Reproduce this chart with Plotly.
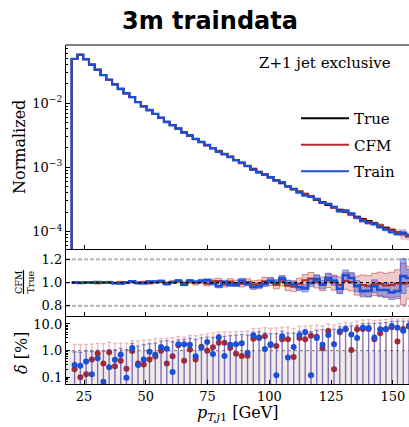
import numpy as np
import plotly.graph_objects as go

# ---------------- data ----------------
bin_edges = list(np.linspace(20, 160, 61))

true_vals = [4.88e-2, 5.69e-2, 4.82e-2, 3.98e-2, 3.31e-2, 2.74e-2, 2.31e-2, 1.96e-2, 1.67e-2, 1.42e-2,
             1.23e-2, 1.04e-2, 8.91e-3, 7.76e-3, 6.76e-3, 5.86e-3, 5.13e-3, 4.52e-3, 3.98e-3, 3.51e-3,
             3.10e-3, 2.75e-3, 2.45e-3, 2.20e-3, 1.98e-3, 1.79e-3, 1.61e-3, 1.46e-3, 1.30e-3, 1.17e-3,
             1.05e-3, 9.46e-4, 8.53e-4, 7.69e-4, 6.93e-4, 6.27e-4, 5.66e-4, 5.12e-4, 4.63e-4, 4.20e-4,
             3.80e-4, 3.45e-4, 3.13e-4, 2.84e-4, 2.59e-4, 2.37e-4, 2.17e-4, 2.00e-4, 1.84e-4, 1.69e-4,
             1.56e-4, 1.45e-4, 1.34e-4, 1.24e-4, 1.14e-4, 1.06e-4, 9.82e-5, 9.10e-5, 8.43e-5, 7.83e-5]

ratio_cfm = [0.998, 1.001, 0.999, 1.004, 0.995, 1.003, 1.006, 0.998, 1.003, 0.998,
             1.009, 0.997, 1.003, 0.996, 1.005, 1.008, 0.997, 1.006, 1.012, 0.996,
             1.010, 0.996, 1.012, 0.990, 1.012, 1.015, 0.985, 1.010, 0.995, 0.990,
             1.005, 0.985, 0.990, 1.012, 1.010, 0.985, 1.012, 0.975, 0.970, 0.990,
             1.020, 1.035, 1.010, 0.990, 1.020, 1.000, 0.980, 1.015, 1.005, 0.975,
             0.980, 0.970, 0.985, 0.990, 0.975, 0.980, 0.995, 0.990, 1.000, 1.000]

ratio_train = [1.003, 0.997, 1.004, 0.999, 1.005, 0.999, 1.002, 0.995, 0.993, 1.001,
               1.012, 0.997, 0.995, 1.009, 1.007, 1.014, 0.988, 1.002, 1.017, 0.983,
               1.017, 1.006, 1.013, 1.021, 0.993, 0.969, 1.006, 0.983, 0.983, 1.019,
               0.992, 0.962, 0.969, 0.989, 1.017, 0.999, 1.035, 0.995, 0.986, 0.961,
               0.951, 0.999, 1.030, 0.983, 1.039, 1.017, 0.947, 1.065, 1.040, 0.970,
               0.927, 0.929, 0.969, 0.937, 0.937, 0.916, 0.927, 1.056, 1.040, 0.950]

err_cfm = [0.006, 0.005, 0.005, 0.006, 0.006, 0.006, 0.007, 0.007, 0.008, 0.008,
           0.009, 0.009, 0.010, 0.010, 0.011, 0.012, 0.012, 0.013, 0.014, 0.015,
           0.016, 0.017, 0.018, 0.019, 0.020, 0.022, 0.023, 0.024, 0.026, 0.027,
           0.029, 0.031, 0.032, 0.034, 0.036, 0.038, 0.041, 0.043, 0.045, 0.048,
           0.050, 0.053, 0.056, 0.059, 0.062, 0.066, 0.070, 0.073, 0.077, 0.082,
           0.086, 0.090, 0.095, 0.100, 0.105, 0.110, 0.116, 0.180, 0.140, 0.150]

err_train = [0.004, 0.004, 0.004, 0.004, 0.005, 0.005, 0.005, 0.005, 0.006, 0.006,
             0.006, 0.007, 0.007, 0.007, 0.008, 0.008, 0.009, 0.009, 0.010, 0.010,
             0.011, 0.011, 0.012, 0.013, 0.013, 0.014, 0.015, 0.016, 0.017, 0.018,
             0.019, 0.020, 0.021, 0.022, 0.023, 0.024, 0.026, 0.027, 0.028, 0.030,
             0.031, 0.033, 0.035, 0.036, 0.038, 0.040, 0.042, 0.044, 0.046, 0.048,
             0.050, 0.052, 0.055, 0.057, 0.060, 0.062, 0.065, 0.150, 0.075, 0.080]

delta_train = [0.29, 0.27, 0.39, 0.13, 0.52, 0.069, 0.24, 0.46, 0.71, 0.097,
               1.26, 0.29, 0.47, 0.92, 0.71, 1.37, 1.19, 0.16, 1.73, 1.73,
               1.68, 0.62, 1.3, 2.1, 0.75, 3.1, 0.63, 1.68, 1.73, 1.9,
               0.84, 3.76, 3.1, 1.15, 1.73, 0.12, 3.45, 0.55, 1.37, 3.87,
               4.9, 0.12, 2.98, 1.68, 3.87, 1.73, 5.3, 6.5, 4.0, 3.0,
               7.3, 7.1, 3.1, 6.3, 6.3, 8.4, 7.3, 5.6, 8.7, 6.0]

delta_cfm = [0.2, 0.1, 0.13, 0.47, 0.78, 0.33, 0.87, 0.26, 0.42, 0.21,
             0.97, 0.33, 0.3, 0.47, 0.6, 1.0, 0.33, 0.62, 1.6, 0.42,
             1.1, 0.47, 1.4, 1.0, 1.33, 2.0, 2.0, 1.3, 0.77, 0.63,
             0.65, 2.8, 3.0, 3.45, 1.63, 1.5, 2.66, 2.7, 0.58, 3.0,
             2.66, 3.65, 3.35, 1.22, 5.5, 0.2, 4.9, 6.3, 1.06, 6.3,
             6.5, 6.5, 2.66, 4.5, 6.5, 7.5, 2.2, 6.5, 8.0, 6.0]

sigma_cfm = [1.5, 1.6, 1.6, 1.3, 1.1, 1.5, 1.2, 1.6, 1.5, 1.7,
             1.4, 2.0, 2.2, 2.1, 2.2, 1.9, 2.6, 2.4, 1.8, 2.8,
             2.6, 3.2, 2.6, 3.3, 3.3, 2.9, 3.1, 3.8, 4.4, 4.6,
             4.7, 3.9, 3.9, 3.8, 5.3, 5.6, 4.8, 5.0, 6.3, 5.2,
             5.8, 5.3, 5.7, 7.2, 4.5, 9.0, 5.5, 5.2, 10.0, 6.5,
             7.5, 8.0, 11.0, 9.5, 8.5, 8.5, 13.0, 9.5, 8.0, 9.0]

sigma_train = [0.6, 0.6, 0.6, 0.8, 0.5, 0.9, 0.8, 0.6, 0.5, 1.0,
               0.6, 1.2, 1.2, 0.9, 1.2, 0.9, 1.2, 2.0, 0.8, 0.9,
               1.2, 2.0, 1.7, 1.1, 2.4, 0.9, 2.8, 2.0, 2.1, 2.1,
               3.0, 1.2, 2.1, 3.5, 2.6, 4.2, 1.8, 4.0, 3.2, 1.5,
               1.3, 5.0, 2.8, 4.5, 2.4, 4.6, 2.5, 1.8, 4.5, 5.8,
               3.0, 3.5, 7.5, 4.5, 5.0, 4.0, 5.5, 7.0, 4.0, 5.0]

# ---------------- derived ----------------
edges = np.array(bin_edges)
centers = 0.5 * (edges[:-1] + edges[1:])
t = np.array(true_vals)
cfm = t * np.array(ratio_cfm)
train = t * np.array(ratio_train)
rc = np.array(ratio_cfm)
rt = np.array(ratio_train)
ec = np.array(err_cfm)
et = np.array(err_train)

def step(v, floor=None):
    v = np.asarray(v, float)
    x = np.append(edges[:-1], edges[-1])
    y = np.append(v, v[-1])
    if floor is not None:
        x = np.insert(x, 0, edges[0])
        y = np.insert(y, 0, floor)
    return x, y

W, H = 409, 427
ML, MR, MT, MB = 66, 0, 45, 43
PW, PH = W - ML - MR, H - MT - MB
def px2x(px): return (px - ML) / PW
def py2y(py): return (H - MB - py) / PH

BLACK = "#000000"
RED = "#b02a2a"
BLUE = "#1a4fd6"
SERIF = "DejaVu Serif"

fig = go.Figure()

# ---- top panel ----
for vals, err, col in [(cfm, ec, "rgba(205,80,80,0.30)"), (train, et, "rgba(70,110,230,0.30)")]:
    xl, yl = step(vals * (1 - err))
    xu, yu = step(vals * (1 + err))
    fig.add_trace(go.Scatter(x=xl, y=yl, mode="lines", line=dict(width=0, shape="hv"),
                             showlegend=False, hoverinfo="skip", xaxis="x", yaxis="y"))
    fig.add_trace(go.Scatter(x=xu, y=yu, mode="lines", line=dict(width=0, shape="hv"),
                             fill="tonexty", fillcolor=col, showlegend=False, hoverinfo="skip",
                             xaxis="x", yaxis="y"))

for name, vals, col, w in [("True", t, BLACK, 2.0), ("CFM", cfm, RED, 2.0), ("Train", train, BLUE, 2.2)]:
    xs, ys = step(vals, floor=1e-9)
    fig.add_trace(go.Scatter(x=xs, y=ys, mode="lines", name=name, legendgroup=name,
                             line=dict(color=col, width=w, shape="hv"), xaxis="x", yaxis="y"))

# ---- ratio panel ----
for r, err, fc, lc in [(rc, ec, "rgba(205,90,90,0.32)", "rgba(185,60,60,0.55)"),
                       (rt, et, "rgba(60,80,210,0.40)", "rgba(60,80,210,0.55)")]:
    xl, yl = step(r - err)
    xu, yu = step(r + err)
    fig.add_trace(go.Scatter(x=xl, y=yl, mode="lines", line=dict(width=1, color=lc, shape="hv"),
                             showlegend=False, hoverinfo="skip", xaxis="x2", yaxis="y2"))
    fig.add_trace(go.Scatter(x=xu, y=yu, mode="lines", line=dict(width=1, color=lc, shape="hv"),
                             fill="tonexty", fillcolor=fc, showlegend=False, hoverinfo="skip",
                             xaxis="x2", yaxis="y2"))
for r, col, w in [(rc, RED, 2.0), (rt, BLUE, 2.6)]:
    xs, ys = step(r)
    fig.add_trace(go.Scatter(x=xs, y=ys, mode="lines", line=dict(color=col, width=w, shape="hv"),
                             showlegend=False, hoverinfo="skip", xaxis="x2", yaxis="y2"))

# ---- delta panel ----
YR3 = [-1.25, 1.30]
floor3 = 10 ** (YR3[0] - 1)
dc = np.array(delta_cfm)
dt = np.array(delta_train)
fig.add_trace(go.Scatter(x=centers, y=dc, mode="markers", showlegend=False,
                         marker=dict(color=RED, size=6),
                         error_y=dict(type="data", array=sigma_cfm, arrayminus=list(dc - floor3),
                                      color="rgba(220,120,120,0.5)", thickness=1.3, width=2),
                         xaxis="x3", yaxis="y3"))
fig.add_trace(go.Scatter(x=centers, y=dt, mode="markers", showlegend=False,
                         marker=dict(color=BLUE, size=6),
                         error_y=dict(type="data", array=sigma_train, arrayminus=list(dt - floor3),
                                      color="rgba(55,55,180,0.55)", thickness=1.3, width=2),
                         xaxis="x3", yaxis="y3"))

# ---------------- layout ----------------
XR = [17.7, 156.5]
tickfont = dict(family=SERIF, size=13, color="black")
d1, d2 = 0.2006, 0.398
common_x = dict(range=XR, showline=True, linecolor="black", linewidth=1.3, ticks="inside",
                ticklen=4, tickcolor="black", showgrid=False, zeroline=False,
                tickvals=[25, 50, 75, 100, 125, 150], tickfont=tickfont)
common_y = dict(showline=True, linecolor="black", linewidth=1.3, ticks="inside", ticklen=4,
                tickcolor="black", showgrid=False, zeroline=False, tickfont=tickfont)

minor_log = [k * 10.0 ** e for e in range(-5, 2) for k in range(2, 10)]

fig.update_layout(
    width=W, height=H, margin=dict(l=ML, r=MR, t=MT, b=MB),
    paper_bgcolor="white", plot_bgcolor="white",
    title=dict(text="<b>3m traindata</b>", font=dict(family="DejaVu Sans", size=24, color="black"),
               x=210 / W, xanchor="center", y=1 - 21 / H, yanchor="middle", yref="container"),
    xaxis=dict(common_x, anchor="y", showticklabels=False, matches="x3"),
    xaxis2=dict(common_x, anchor="y2", showticklabels=False, matches="x3"),
    xaxis3=dict(common_x, anchor="y3", showticklabels=True),
    yaxis=dict(common_y, type="log", range=[-4.275, -1.094], domain=[d2, 1], anchor="x",
               tickvals=[1e-4, 1e-3, 1e-2],
               ticktext=["10<sup>−4</sup>", "10<sup>−3</sup>", "10<sup>−2</sup>"],
               minor=dict(tickvals=minor_log, ticks="inside", ticklen=2, tickcolor="black")),
    yaxis2=dict(common_y, range=[0.713, 1.289], domain=[d1, d2], anchor="x2",
                tickvals=[0.8, 1.0, 1.2], ticktext=["0.8", "1.0", "1.2"]),
    yaxis3=dict(common_y, type="log", range=YR3, domain=[0, d1], anchor="x3",
                tickvals=[0.1, 1, 10], ticktext=["0.1", "1.0", "10.0"],
                minor=dict(tickvals=minor_log, ticks="inside", ticklen=2, tickcolor="black")),
    legend=dict(x=px2x(296), y=py2y(102), xanchor="left", yanchor="top",
                font=dict(family=SERIF, size=15, color="black"), bgcolor="rgba(0,0,0,0)",
                tracegroupgap=4, itemwidth=48),
    showlegend=True,
)

shapes = [
    dict(type="line", xref="paper", yref="paper", x0=0, x1=1, y0=1, y1=1,
         line=dict(color="#7f7f7f", width=2.2)),
    dict(type="line", xref="x2 domain", yref="y2", x0=0, x1=1, y0=1.2, y1=1.2,
         line=dict(color="#bdbdbd", width=2.2, dash="4px,2px"), layer="below"),
    dict(type="line", xref="x2 domain", yref="y2", x0=0, x1=1, y0=0.8, y1=0.8,
         line=dict(color="#bdbdbd", width=2.2, dash="4px,2px"), layer="below"),
    dict(type="line", xref="x2 domain", yref="y2", x0=0, x1=1, y0=1.0, y1=1.0,
         line=dict(color="black", width=1.2, dash="dot"), layer="above"),
    dict(type="rect", xref="x3 domain", yref="y3", x0=0, x1=1, y0=floor3, y1=1,
         fillcolor="#ececec", line=dict(width=0), layer="below"),
    dict(type="line", xref="x3 domain", yref="y3", x0=0, x1=1, y0=1, y1=1,
         line=dict(color="#777777", width=1, dash="dot"), layer="below"),
    dict(type="line", xref="paper", yref="paper", x0=px2x(23.5), x1=px2x(23.5),
         y0=py2y(270), y1=py2y(294), line=dict(color="black", width=1.2)),
]
fig.update_layout(shapes=shapes)

ann = [
    dict(text="Z+1 jet exclusive", x=px2x(393), y=py2y(63), xanchor="right", yanchor="middle",
         font=dict(family=SERIF, size=15, color="black")),
    dict(text="Normalized", x=px2x(19), y=py2y(147), textangle=-90, xanchor="center", yanchor="middle",
         font=dict(family=SERIF, size=16, color="black")),
    dict(text="CFM", x=px2x(18), y=py2y(282), textangle=-90, xanchor="center", yanchor="middle",
         font=dict(family=SERIF, size=9.5, color="black")),
    dict(text="True", x=px2x(29.5), y=py2y(282), textangle=-90, xanchor="center", yanchor="middle",
         font=dict(family=SERIF, size=9.5, color="black")),
    dict(text="<i>δ</i> [%]", x=px2x(21), y=py2y(353), textangle=-90, xanchor="center", yanchor="middle",
         font=dict(family=SERIF, size=16, color="black")),
    dict(text="<i>p</i><sub><i>T,j</i>1</sub> [GeV]", x=px2x(238), y=py2y(414), xanchor="center",
         yanchor="middle", font=dict(family=SERIF, size=16, color="black")),
]
for a in ann:
    a.update(xref="paper", yref="paper", showarrow=False)
fig.update_layout(annotations=ann)

fig.write_html("out.html", config={"displayModeBar": False},
               post_script="document.body.style.margin='0px';")
